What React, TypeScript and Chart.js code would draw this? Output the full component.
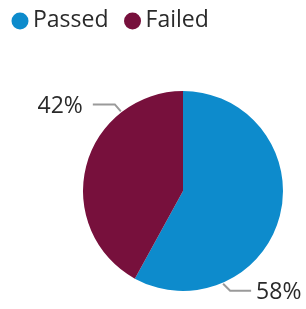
import React, { useEffect, useRef } from "react";
import { Chart, registerables } from "chart.js";

Chart.register(...registerables);

const categories = ["Passed", "Failed"];
const values = [58, 42];
const colors = ["#0d8bcc", "#77103c"];
const valueLabels = ["58%", "42%"];

const FONT = "'Open Sans', 'Noto Sans', sans-serif";
// anchor angle (degrees, canvas convention) where each leader line touches the pie
const anchorDeg = [66.6, -128];

const overlayPlugin = {
  id: "overlay",
  afterDraw(chart: any) {
    const ctx = chart.ctx;
    const meta = chart.getDatasetMeta(0);
    ctx.save();
    // legend
    ctx.font = `23px ${FONT}`;
    ctx.textBaseline = "middle";
    ctx.textAlign = "left";
    let x = 20;
    const ly = 20;
    categories.forEach((c, i) => {
      ctx.beginPath();
      ctx.arc(x, ly + 1, 8.5, 0, Math.PI * 2);
      ctx.fillStyle = colors[i];
      ctx.fill();
      ctx.fillStyle = "#2a2a2a";
      ctx.fillText(c, x + 13, ly);
      x += 13 + ctx.measureText(c).width + 24;
    });
    // slice labels with leader lines
    meta.data.forEach((arc: any, i: number) => {
      const { x: cx, y: cy, outerRadius } = arc.getProps(["x", "y", "outerRadius"], true);
      const a = (anchorDeg[i] * Math.PI) / 180;
      const cos = Math.cos(a);
      const sin = Math.sin(a);
      const p0x = cx + cos * (outerRadius + 1);
      const p0y = cy + sin * (outerRadius + 1);
      const right = cos >= 0;
      const p1x = p0x + (right ? 7 : -6);
      const p1y = p0y + (sin >= 0 ? 7 : -7);
      const p2x = p1x + (right ? 21 : -22);
      ctx.beginPath();
      ctx.moveTo(p0x, p0y);
      ctx.lineTo(p1x, p1y);
      ctx.lineTo(p2x, p1y);
      ctx.strokeStyle = "#9a9a9a";
      ctx.lineWidth = 2;
      ctx.stroke();
      ctx.fillStyle = "#2a2a2a";
      ctx.font = `23px ${FONT}`;
      ctx.textAlign = right ? "left" : "right";
      ctx.fillText(valueLabels[i], p2x + (right ? 5 : -10), p1y + 2);
    });
    ctx.restore();
  },
};

export default function App() {
  const ref = useRef<HTMLCanvasElement>(null);
  useEffect(() => {
    document.body.style.margin = "0";
    const chart = new Chart(ref.current!, {
      type: "pie",
      data: {
        labels: categories,
        datasets: [
          {
            data: values,
            backgroundColor: colors,
            borderWidth: 0,
          },
        ],
      },
      options: {
        animation: false,
        responsive: false,
        layout: { padding: { left: 83, right: 23, top: 90, bottom: 17 } },
        plugins: {
          legend: { display: false },
          tooltip: { enabled: false },
        },
      },
      plugins: [overlayPlugin],
    });
    return () => chart.destroy();
  }, []);
  return (
    <div style={{ width: 306, height: 309, background: "#fff" }}>
      <canvas ref={ref} width={306} height={309} />
    </div>
  );
}
